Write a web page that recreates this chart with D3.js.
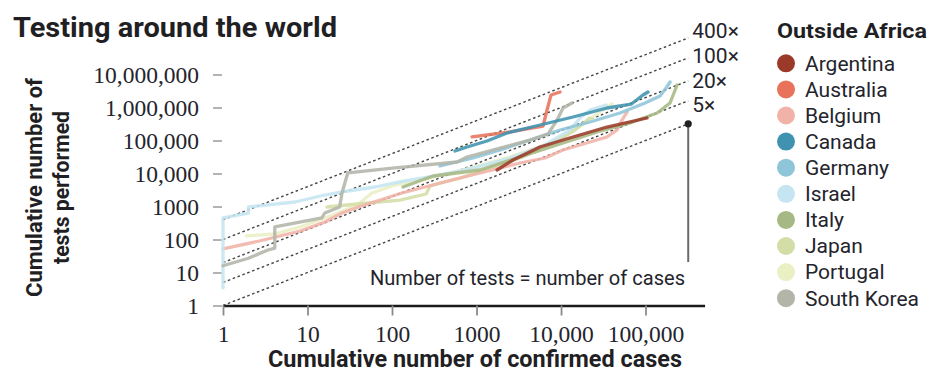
<!DOCTYPE html>
<html>
<head>
<meta charset="utf-8">
<script src="https://cdn.jsdelivr.net/npm/d3@7"></script>
<style>
  html, body { margin: 0; padding: 0; background: #fff; }
  svg { display: block; }
</style>
</head>
<body>
<svg id="chart" width="929" height="373"></svg>
<script>
// Cumulative confirmed cases vs cumulative tests, one series per country: [cases, tests]
const argentina = [[1750, 12770], [2700, 25660], [5640, 63500], [13870, 127700], [35000, 256000], [104000, 481000]];
const australia = [[885, 128000], [2490, 181000], [6120, 275000], [6830, 840000], [7610, 2390000], [9730, 2950000]];
const belgium = [[1, 52], [2.7, 90], [8.2, 181], [16, 340], [25.6, 635], [40, 966], [131, 2565], [370, 5150], [1100, 10350],
  [3270, 20800], [6470, 29500], [10560, 51500], [22000, 90000], [35000, 128000], [46000, 208000], [52700, 418000], [60400, 730000]];
const canada = [[557, 48000], [772, 63500], [1330, 96600], [2300, 169000], [5640, 295000], [13870, 515000], [35000, 966000],
  [68000, 1270000], [93300, 2390000], [107000, 2950000]];
const germany = [[370, 16900], [909, 29500], [1900, 51500], [4300, 103500], [9730, 208000], [22000, 364000], [49900, 681000],
  [98700, 1370000], [148500, 2230000], [175000, 3900000], [195000, 5930000]];
const israel = [[1, 3.4], [1, 450], [2, 635], [2, 966], [7.1, 1370], [16, 2230], [30, 2950], [63, 3900], [142, 5930], [370, 9000],
  [1010, 15700], [2490, 29500], [6470, 73000], [12800, 208000], [16800, 481000], [22000, 840000], [34100, 1190000]];
const italy = [[135, 3900], [306, 8400], [1100, 12770], [3270, 31600], [10560, 84000], [26700, 181000], [65600, 339000],
  [137000, 681000], [195000, 1370000], [236000, 4800000]];
const japan = [[17, 966], [38.5, 1190], [124, 1570], [253, 2390], [282, 4180], [638, 7300], [1445, 14700], [3270, 29500],
  [7400, 73000], [14650, 208000], [22000, 481000]];
const portugal = [[1.9, 128], [4.1, 147], [8.2, 240], [16, 450], [28, 780], [40, 1190], [58, 2570], [108, 4480], [280, 7300],
  [840, 14700], [2490, 31600], [7400, 84000], [16800, 275000], [29000, 730000], [40000, 1280000]];
const southKorea = [[1, 16], [2, 27], [3.4, 48], [4.1, 55], [4.1, 240], [14.8, 450], [16, 635], [21, 840], [24, 970], [25.6, 2570],
  [29, 7800], [30, 10400], [108, 14700], [590, 22300], [770, 31600], [1900, 59000], [4300, 103500], [7000, 157000],
  [9000, 418000], [10560, 966000], [13500, 1370000]];

const countryNames = ["Argentina", "Australia", "Belgium", "Canada", "Germany", "Israel", "Italy", "Japan", "Portugal", "South Korea"];
const countrySeries = [argentina, australia, belgium, canada, germany, israel, italy, japan, portugal, southKorea];
const palette = ["#9c3a2a", "#e8735a", "#f1b3a8", "#3f93b0", "#8ec5d8", "#c4e5f1", "#a6b883", "#d3dea6", "#ebefc4", "#b2b5a7"];
// painting order (back to front)
const drawOrder = [8, 7, 2, 5, 6, 4, 9, 1, 3, 0];

const xTicks = [1, 10, 100, 1000, 10000, 100000];
const yTicks = [1, 10, 100, 1000, 10000, 100000, 1000000, 10000000];
const ratios = [1, 5, 20, 100, 400];
const ratioLabels = ["", "5×", "20×", "100×", "400×"];
const refLineEnd = 320000;

const svg = d3.select("#chart");
const sans = "Roboto, 'Noto Sans', sans-serif";
const serif = "'Liberation Serif', 'DejaVu Serif', serif";
const ink = "#24242c";

const x = d3.scaleLog().domain([1, 500000]).range([223, 704.6]);
const y = d3.scaleLog().domain([1, 1e7]).range([305.5, 74.5]);
const fmt = d => d >= 10000 ? d3.format(",")(d) : String(d);

// title
svg.append("text").attr("x", 13).attr("y", 37)
  .attr("font-family", sans).attr("font-weight", 700).attr("font-size", 28)
  .attr("textLength", 324).attr("lengthAdjust", "spacingAndGlyphs")
  .attr("fill", "#1f1f24").text("Testing around the world");

// y axis (ticks float left of the plot)
const yAxis = svg.append("g").attr("transform", "translate(213,0)")
  .call(d3.axisLeft(y).tickValues(yTicks).tickFormat(fmt).tickSize(0).tickPadding(14));
yAxis.select(".domain").remove();
yAxis.selectAll(".tick").append("line").attr("x1", 0).attr("x2", 9)
  .attr("stroke", "#9a9a9a").attr("stroke-width", 1.5);
yAxis.selectAll("text").attr("font-family", serif).attr("font-size", 23.5).attr("fill", ink);

// y axis title
const yTitle = svg.append("g").attr("font-family", sans).attr("font-weight", 700).attr("font-size", 22)
  .attr("fill", "#1f1f24").attr("text-anchor", "middle");
yTitle.append("text").attr("transform", "translate(42,187.5) rotate(-90)")
  .attr("textLength", 219).attr("lengthAdjust", "spacingAndGlyphs").text("Cumulative number of");
yTitle.append("text").attr("transform", "translate(69,187.5) rotate(-90)")
  .attr("textLength", 153).attr("lengthAdjust", "spacingAndGlyphs").text("tests performed");

// reference lines: tests = k × cases
const refLine = d3.line().x(d => x(d[0])).y(d => y(d[1]));
svg.append("g").selectAll("path").data(ratios).join("path")
  .attr("d", k => refLine([[1, k], [refLineEnd, refLineEnd * k]]))
  .attr("fill", "none").attr("stroke", "#444").attr("stroke-width", 1.4)
  .attr("stroke-dasharray", "2.6,2.6");

const ratioLabelBaselines = [0, 111.7, 88, 63.3, 38.3];
svg.append("g").selectAll("text").data(ratios.slice(1)).join("text")
  .attr("x", x(refLineEnd) + 4)
  .attr("y", (k, i) => ratioLabelBaselines[i + 1])
  .attr("font-family", sans).attr("font-size", 21).attr("fill", ink)
  .text((k, i) => ratioLabels[i + 1]);

// country series
const line = d3.line().x(d => x(d[0])).y(d => y(d[1]));
svg.append("g").selectAll("path").data(drawOrder).join("path")
  .attr("d", i => line(countrySeries[i]))
  .attr("fill", "none").attr("stroke", i => palette[i]).attr("stroke-width", 3.3)
  .attr("stroke-linejoin", "round").attr("stroke-linecap", "round").attr("opacity", 0.88);

// x axis
const xAxis = svg.append("g").attr("transform", `translate(0,${y(1)})`)
  .call(d3.axisBottom(x).tickValues(xTicks).tickFormat(fmt).tickSizeInner(10).tickSizeOuter(0).tickPadding(10));
xAxis.select(".domain").attr("stroke", "#1b1b1b").attr("stroke-width", 2.5);
xAxis.selectAll(".tick line").attr("stroke", "#8a8a8a").attr("stroke-width", 1.8);
xAxis.selectAll("text").attr("font-family", serif).attr("font-size", 23.5).attr("fill", ink);

svg.append("text").attr("x", 268).attr("y", 367)
  .attr("font-family", sans).attr("font-weight", 700).attr("font-size", 23)
  .attr("textLength", 414).attr("lengthAdjust", "spacingAndGlyphs")
  .attr("fill", "#1f1f24").text("Cumulative number of confirmed cases");

// parity annotation
const parityTop = 262;
svg.append("line").attr("x1", x(refLineEnd)).attr("x2", x(refLineEnd))
  .attr("y1", y(refLineEnd)).attr("y2", parityTop)
  .attr("stroke", "#6a6a6a").attr("stroke-width", 2);
svg.append("circle").attr("cx", x(refLineEnd)).attr("cy", y(refLineEnd)).attr("r", 3.6).attr("fill", "#222");
svg.append("text").attr("x", 370).attr("y", 285)
  .attr("font-family", sans).attr("font-size", 21).attr("fill", ink)
  .attr("textLength", 315).attr("lengthAdjust", "spacingAndGlyphs")
  .text("Number of tests = number of cases");

// legend
const legend = svg.append("g");
legend.append("text").attr("x", 777).attr("y", 38)
  .attr("font-family", sans).attr("font-weight", 700).attr("font-size", 21)
  .attr("textLength", 150).attr("lengthAdjust", "spacingAndGlyphs")
  .attr("fill", "#1f1f24").text("Outside Africa");
const items = legend.selectAll("g.item").data(countryNames).join("g").attr("class", "item")
  .attr("transform", (d, i) => `translate(0,${63.3 + i * 26.1})`);
items.append("circle").attr("cx", 786).attr("cy", 0).attr("r", 9).attr("fill", (d, i) => palette[i]);
items.append("text").attr("x", 805).attr("y", 0).attr("dy", "0.35em")
  .attr("font-family", sans).attr("font-size", 21).attr("fill", ink).text(d => d);
</script>
</body>
</html>
